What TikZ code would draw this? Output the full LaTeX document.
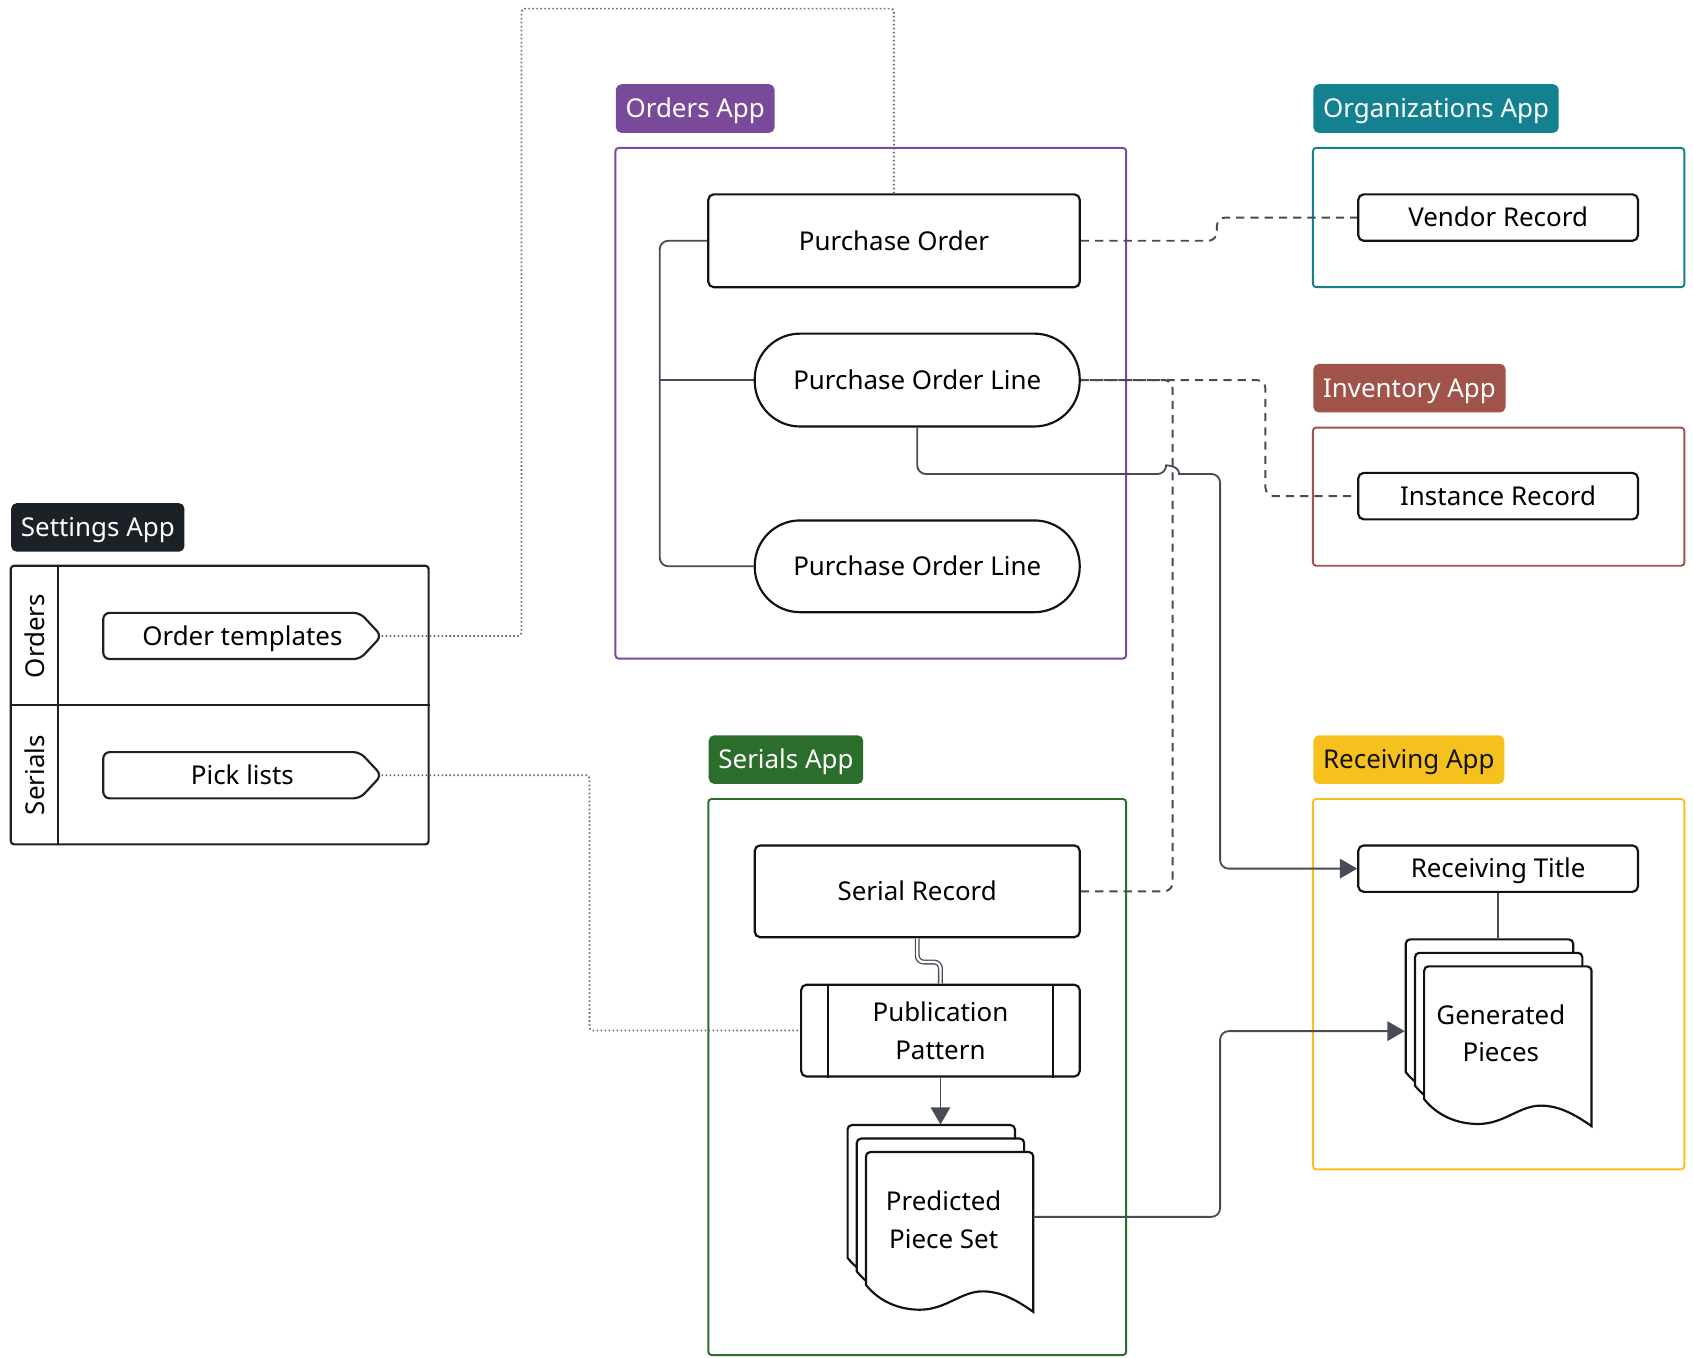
\documentclass[tikz,border=0pt]{standalone}
\usepackage{fontspec}
\setmainfont{Noto Sans}
\usetikzlibrary{arrows.meta,calc}
\definecolor{cpurple}{HTML}{7A4A9A}
\definecolor{cteal}{HTML}{13818F}
\definecolor{cinv}{HTML}{A05348}
\definecolor{cset}{HTML}{1C2127}
\definecolor{cser}{HTML}{2B6D2B}
\definecolor{crec}{HTML}{F6C11D}
\definecolor{cblk}{HTML}{121212}
\definecolor{cconn}{HTML}{454C56}
\definecolor{cdot}{HTML}{62666D}
\begin{document}
\begin{tikzpicture}[x=0.5pt,y=-0.5pt,
  every node/.style={font=\fontsize{12}{17.5}\selectfont},
  capc/.style={text height=8.6pt, text depth=0pt},
  tag/.style={rounded corners=2.5pt, inner xsep=4.5pt, inner ysep=0pt, minimum height=22.5pt, anchor=west, text=white, capc, font=\fontsize{12}{15}\selectfont},
  appbox/.style={draw, rounded corners=1.5pt, line width=0.9pt},
  recbase/.style={draw=cblk, fill=white, rounded corners=2.5pt, line width=1pt, align=center, inner sep=0pt},
  rec/.style={recbase, capc},
  pill/.style={rec, rounded corners=21pt},
  conn/.style={draw=cconn, line width=0.85pt},
  dconn/.style={conn, line width=0.9pt, dash pattern=on 3.8pt off 2.8pt},
  dotconn/.style={draw=cdot, line width=0.8pt, dash pattern=on 0.7pt off 1.15pt},
  arr/.style={-{Triangle[length=8pt,width=9pt]}},
  docline/.style={draw=cblk, fill=white, line width=1pt}
]
\useasboundingbox (0,0) rectangle (1568,1257);

% ---------- tags ----------
\node[tag, fill=cpurple] (ordersTag) at (570,100.5) {Orders App};
\node[tag, fill=cteal] (orgTag) at (1216,100.5) {Organizations App};
\node[tag, fill=cinv] (invTag) at (1216,359.5) {Inventory App};
\node[tag, fill=cset] (setTag) at (10,488.5) {Settings App};
\node[tag, fill=cser] (serTag) at (656,703.5) {Serials App};
\node[tag, fill=crec, text=cblk] (recTag) at (1216,703.5) {Receiving App};

% ---------- containers ----------
\node[appbox, draw=cpurple, minimum width=236.5pt, minimum height=236.5pt] (ordersBox) at (806.5,373.5) {};
\node[appbox, draw=cteal, minimum width=172pt, minimum height=64.5pt] (orgBox) at (1388,201.5) {};
\node[appbox, draw=cinv, minimum width=172pt, minimum height=64pt] (invBox) at (1388,460) {};
\node[appbox, draw=cset, line width=1pt, minimum width=193.5pt, minimum height=129pt] (setBox) at (203.5,653) {};
\node[appbox, draw=cser, minimum width=193.5pt, minimum height=257.5pt] (serBox) at (849.5,997.5) {};
\node[appbox, draw=crec, minimum width=172pt, minimum height=171.5pt] (recBox) at (1388,911.5) {};

% settings box dividers and lane labels
\draw[draw=cset, line width=1pt] ([xshift=22.5pt]setBox.north west) -- ([xshift=22.5pt]setBox.south west);
\draw[draw=cset, line width=1pt] (setBox.west) -- (setBox.east);
\node[rotate=90, capc] (laneOrders) at (33,589) {Orders};
\node[rotate=90, capc] (laneSerials) at (33,718) {Serials};

% ---------- nodes ----------
\node[rec, minimum width=172pt, minimum height=43pt] (po) at (828,223) {Purchase Order};
\node[pill, minimum width=150.5pt, minimum height=43pt] (pol1) at (849.5,352) {Purchase Order Line};
\node[pill, minimum width=150.5pt, minimum height=42.5pt] (pol2) at (849.5,524.5) {Purchase Order Line};
\node[rec, minimum width=129.5pt, minimum height=21.5pt] (vendor) at (1387.5,201.5) {Vendor Record};
\node[rec, minimum width=129.5pt, minimum height=21.5pt] (instance) at (1387.5,459.5) {Instance Record};
\node[rec, minimum width=150.5pt, minimum height=42.5pt] (serial) at (849.5,825.5) {Serial Record};
\node[recbase, minimum width=129pt, minimum height=42.5pt] (pubpat) at (871,954.5) {Publication\\Pattern};
\draw[draw=cblk, line width=1pt] ([xshift=13pt]pubpat.north west) -- ([xshift=13pt]pubpat.south west);
\draw[draw=cblk, line width=1pt] ([xshift=-13pt]pubpat.north east) -- ([xshift=-13pt]pubpat.south east);
\node[rec, minimum width=129.5pt, minimum height=21.5pt] (rectitle) at (1387.5,804.5) {Receiving Title};

% settings items (pentagon tags)
\node[minimum width=128.5pt, minimum height=21pt, inner sep=0pt] (ordtpl) at (224.5,589) {};
\draw[draw=cset, fill=white, line width=1pt, rounded corners=3pt]
  (ordtpl.north west) -- ([xshift=-10pt]ordtpl.north east) -- (ordtpl.east) -- ([xshift=-10pt]ordtpl.south east) -- (ordtpl.south west) -- cycle;
\node[capc] at (ordtpl.center) {Order templates};
\node[minimum width=128.5pt, minimum height=21pt, inner sep=0pt] (picks) at (224.5,718) {};
\draw[draw=cset, fill=white, line width=1pt, rounded corners=3pt]
  (picks.north west) -- ([xshift=-10pt]picks.north east) -- (picks.east) -- ([xshift=-10pt]picks.south east) -- (picks.south west) -- cycle;
\node[capc] at (picks.center) {Pick lists};

% ---------- document stacks ----------
\newcommand{\docstack}[2]{%
  \foreach \dx/\dy in {-17/-25, -8.5/-12.5, 0/0}{%
    \begin{scope}[shift={(#1+\dx,#2+\dy)}]
      \path[docline] (0,123) [rounded corners=2pt] -- (0,0) -- (155,0) [sharp corners] -- (155,148)
        .. controls (138,136) and (124,129) .. (108,129)
        .. controls (88,129) and (74,146) .. (50,146)
        .. controls (30,146) and (12,138) .. (0,123) -- cycle;
    \end{scope}}}
\docstack{802}{1067}
\node[align=center, minimum width=77.5pt, minimum height=61.5pt, inner sep=0pt] (pps) at (874,1129.5) {Predicted\\Piece Set};
\docstack{1319}{895}
\node[align=center, minimum width=77.5pt, minimum height=61pt, inner sep=0pt] (gen) at (1390,957) {Generated\\Pieces};
\coordinate (ppsTop) at (871,1041.5);
\coordinate (genTop) at (1387.5,869);
\coordinate (genBack) at (1301,955);
\coordinate (ppsRight) at (957,1127);

% ---------- connectors ----------
% bracket
\draw[conn, rounded corners=4pt] (po.west) -- ++(-44,0) |- (pol2.west);
\draw[conn] (pol1.west) -- ++(-87,0);
% dotted settings links
\draw[dotconn, rounded corners=1.5pt] (ordtpl.east) -| (483,8) -| (po.north);
\draw[dotconn, rounded corners=1.5pt] (picks.east) -- (546,718) |- (pubpat.west);
% dashed links
\draw[dconn, rounded corners=4pt] (po.east) -- (1127,223) |- (vendor.west);
\draw[dconn, rounded corners=4pt] (pol1.east) -- (1172,352) |- (instance.west);
\draw[dconn, rounded corners=4pt] (serial.east) -- (1086,825.5) |- (pol1.east);
% solid POL -> receiving title with line hop
\draw[conn, arr] (pol1.south) [rounded corners=4pt] |- (1080,439) [sharp corners]
  .. controls (1080,431) and (1092,431) .. (1092,439) [rounded corners=4pt] -- (1130,439) |- (rectitle.west);
% serial -> publication (double)
\draw[draw=cconn, line width=0.6pt, double=white, double distance=1.1pt, rounded corners=3pt] (serial.south) -- ++(0,22) -| (pubpat.north);
% publication -> predicted
\draw[conn, arr] (pubpat.south) -- (ppsTop);
% predicted -> generated
\draw[conn, arr, rounded corners=4pt] (ppsRight) -- (1130,1127) |- (genBack);
% receiving title -> generated
\draw[conn] (rectitle.south) -- (genTop);
\end{tikzpicture}
\end{document}
